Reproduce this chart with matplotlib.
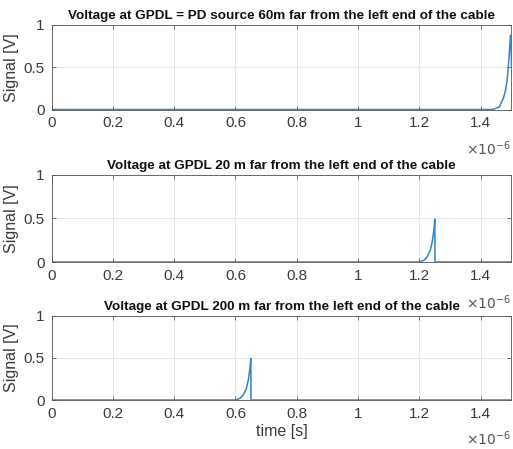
import numpy as np
import matplotlib.pyplot as plt

plt.rcParams['font.family'] = ['Liberation Sans', 'DejaVu Sans']

# time in microseconds, signal in volts
t_top = [0, 1.44, 1.46, 1.474, 1.48, 1.486, 1.492, 1.495, 1.497, 1.499, 1.5]
v_top = [0, 0, 0.03, 0.14, 0.22, 0.35, 0.62, 0.78, 0.88, 0.7, 0.5]

t_mid = [0, 1.20, 1.215, 1.225, 1.235, 1.242, 1.247, 1.25, 1.2505, 1.5]
v_mid = [0, 0, 0.02, 0.06, 0.13, 0.24, 0.37, 0.49, 0, 0]

t_bot = [0, 0.60, 0.615, 0.625, 0.635, 0.642, 0.647, 0.65, 0.6505, 1.5]
v_bot = [0, 0, 0.02, 0.06, 0.13, 0.24, 0.37, 0.49, 0, 0]

titles = ["Voltage at GPDL = PD source 60m far from the left end of the cable",
          "Voltage at GPDL 20 m far from the left end of the cable",
          "Voltage at GPDL 200 m far from the left end of the cable"]

xticks = [0, 0.2, 0.4, 0.6, 0.8, 1, 1.2, 1.4]
xticklabels = ["0", "0.2", "0.4", "0.6", "0.8", "1", "1.2", "1.4"]
yticks = [0, 0.5, 1]
yticklabels = ["0", "0.5", "1"]

W, H = 513, 449
fig = plt.figure(figsize=(W / 100, H / 100), dpi=100)

# axes boxes in pixels: (top, bottom)
boxes = [(25, 109.5), (174.5, 262), (315.5, 400)]
left, right = 51.5, 511.5

series = [(t_top, v_top), (t_mid, v_mid), (t_bot, v_bot)]
dark = '#3a3a3a'

for i, ((top, bot), (t, v)) in enumerate(zip(boxes, series)):
    ax = fig.add_axes([left / W, 1 - bot / H, (right - left) / W, (bot - top) / H])
    ax.plot(np.array(t), v, color='#2f86c8', lw=1.1)
    ax.set_xlim(0, 1.5)
    ax.set_ylim(0, 1)
    ax.set_xticks(xticks)
    ax.set_xticklabels(xticklabels)
    ax.set_yticks(yticks)
    ax.set_yticklabels(yticklabels)
    ax.grid(True, color='#e3e3e3', lw=0.6)
    ax.set_axisbelow(True)
    ax.tick_params(direction='in', length=3, width=0.6, colors='#555555', labelcolor=dark,
                   labelsize=11, pad=5, top=True, right=True,
                   labeltop=False, labelright=False)
    for sp in ax.spines.values():
        sp.set_color('#555555')
        sp.set_linewidth(0.6)
    ax.set_title(titles[i], fontsize=9.7, fontweight='bold', color='#111111', pad=4)
    ax.set_ylabel("Signal [V]", fontsize=11.5, color=dark, labelpad=3)
    ax.text(1.0, -0.46, r"$\times10^{-6}$", transform=ax.transAxes, ha='right', va='center',
            fontsize=10, color='#555555')
    if i == 2:
        ax.set_xlabel("time [s]", fontsize=11.5, color=dark, labelpad=2)

fig.savefig("out.png", dpi=100, facecolor='white')
